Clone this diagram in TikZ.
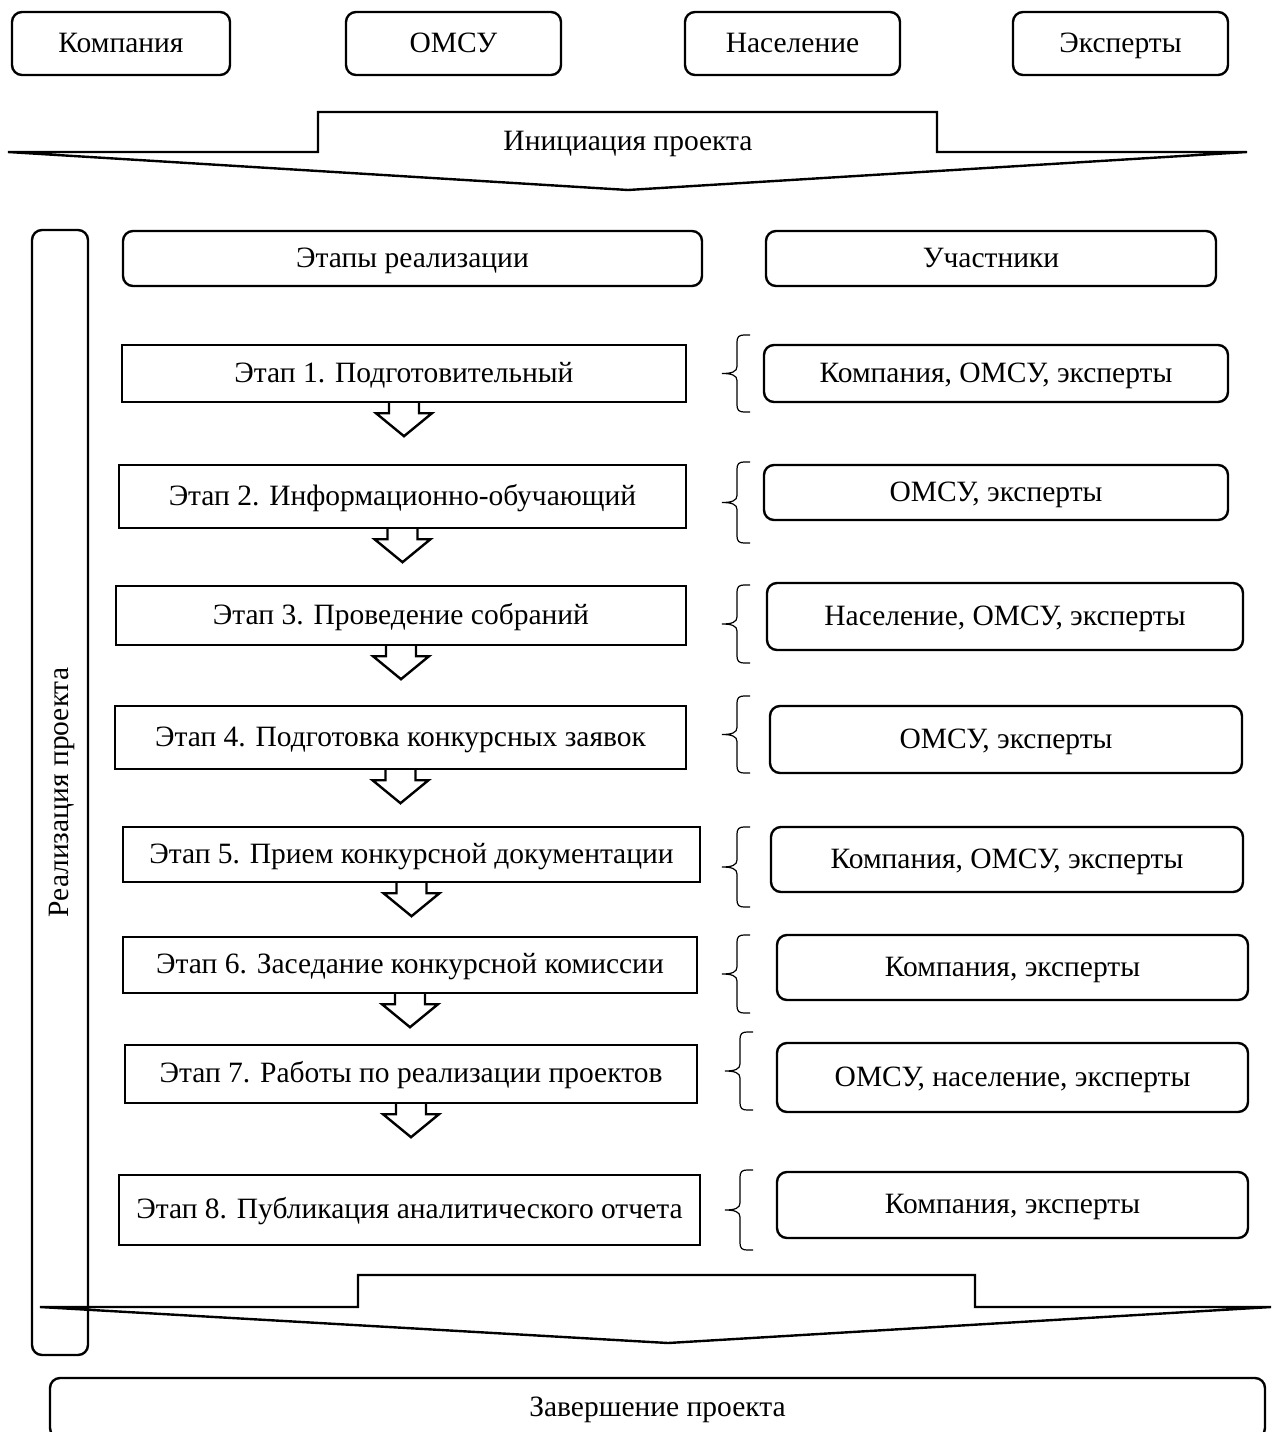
\documentclass[tikz,border=0pt]{standalone}
\usepackage{fontspec}
\setmainfont{Liberation Serif}
\usepackage{tikz}
\usetikzlibrary{calc}
\newcommand{\diagfont}{\fontsize{29.5}{34}\selectfont}
\tikzset{
  actorbox/.style={rectangle, draw=black, rounded corners=10pt,
    line width=2.4pt, inner sep=0pt, font=\diagfont,
    text height=23pt, text depth=6pt},
  headbox/.style={actorbox},
  stagebox/.style={rectangle, draw=black, line width=2.4pt,
    inner sep=0pt, font=\diagfont, text height=23pt, text depth=6pt},
  partbox/.style={actorbox},
  bigarrow/.style={draw=black, line width=2.4pt, line join=miter},
  stagearrow/.style={draw=black, line width=2.4pt, line join=miter},
  bracestroke/.style={draw=black, line width=1.2pt}
}

\begin{document}
\begin{tikzpicture}[x=1pt, y=-1pt]
  \useasboundingbox (0,0) rectangle (1273,1432);
  % ── Participants (top row) ────────────────────────────────────────────────
  \node[actorbox, minimum width=218, minimum height=63] (company) at (121,43.5) {Компания};
  \node[actorbox, minimum width=215, minimum height=63] (omsu) at (453.5,43.5) {ОМСУ};
  \node[actorbox, minimum width=215, minimum height=63] (people) at (792.5,43.5) {Население};
  \node[actorbox, minimum width=215, minimum height=63] (experts) at (1120.5,43.5) {Эксперты};

  % ── Initiation arrow ──────────────────────────────────────────────────────
  \draw[bigarrow] (8,152) -- (318,152) -- (318,112) -- (937,112) -- (937,152)
    -- (1247,152) -- (628,190) -- cycle;
  \node[font=\diagfont, text height=23pt, text depth=6pt, inner sep=0pt] (init) at (628,142) {Инициация проекта};

  % ── Realisation frame and headers ─────────────────────────────────────────
  \node[actorbox, rotate=90, minimum width=1125, minimum height=56] (realis) at (60,792.5) {Реализация проекта};
  \node[headbox, minimum width=579, minimum height=55] (stagehdr) at (412.5,258.5) {Этапы реализации};
  \node[headbox, minimum width=450, minimum height=55] (parthdr) at (991,258.5) {Участники};

  % ── Stages (left column) ──────────────────────────────────────────────────
  \node[stagebox, minimum width=564, minimum height=57] (s1) at (404,373.5) {Этап 1. Подготовительный};
  \node[stagebox, minimum width=567, minimum height=63] (s2) at (402.5,496.5) {Этап 2. Информационно-обучающий};
  \node[stagebox, minimum width=570, minimum height=59] (s3) at (401,615.5) {Этап 3. Проведение собраний};
  \node[stagebox, minimum width=571, minimum height=63] (s4) at (400.5,737.5) {Этап 4. Подготовка конкурсных заявок};
  \node[stagebox, minimum width=577, minimum height=55] (s5) at (411.5,854.5) {Этап 5. Прием конкурсной документации};
  \node[stagebox, minimum width=574, minimum height=56] (s6) at (410,965) {Этап 6. Заседание конкурсной комиссии};
  \node[stagebox, minimum width=572, minimum height=58] (s7) at (411,1074) {Этап 7. Работы по реализации проектов};
  \node[stagebox, minimum width=581, minimum height=70] (s8) at (409.5,1210) {Этап 8. Публикация аналитического отчета};

  % block arrows under stages 1-7
  \foreach \s in {s1,s2,s3,s4,s5,s6,s7}{
    \draw[stagearrow] ($(\s.south)+(-15,0)$) -- ++(0,10) -- ++(-13,0)
      -- ($(\s.south)+(0,33)$) -- ($(\s.south)+(28,10)$) -- ++(-13,0) -- ++(0,-10);
  }

  % ── Participants per stage (right column) ─────────────────────────────────
  \node[partbox, minimum width=464, minimum height=57] (p1) at (996,373.5) {Компания, ОМСУ, эксперты};
  \node[partbox, minimum width=464, minimum height=55] (p2) at (996,492.5) {ОМСУ, эксперты};
  \node[partbox, minimum width=476, minimum height=67] (p3) at (1005,616.5) {Население, ОМСУ, эксперты};
  \node[partbox, minimum width=472, minimum height=67] (p4) at (1006,739.5) {ОМСУ, эксперты};
  \node[partbox, minimum width=472, minimum height=65] (p5) at (1007,859.5) {Компания, ОМСУ, эксперты};
  \node[partbox, minimum width=471, minimum height=65] (p6) at (1012.5,967.5) {Компания, эксперты};
  \node[partbox, minimum width=471, minimum height=69] (p7) at (1012.5,1077.5) {ОМСУ, население, эксперты};
  \node[partbox, minimum width=471, minimum height=66] (p8) at (1012.5,1205) {Компания, эксперты};

  % braces between stage and participants
  \foreach \bx/\btop/\bbot [evaluate=\bbot as \bmid using (\btop+\bbot)/2] in
      {750/335/412, 750/462/543, 750/585/663, 750/696/773,
       750/827/907, 750/935/1013, 753/1032/1110, 753/1170/1250}{
    \draw[bracestroke] (\bx,\btop) -- (\bx-6,\btop)
      .. controls (\bx-11,\btop) and (\bx-13,\btop+2) .. (\bx-13,\btop+7)
      -- (\bx-13,\bmid-7)
      .. controls (\bx-13,\bmid-2) and (\bx-18,\bmid) .. (\bx-28,\bmid)
      .. controls (\bx-18,\bmid) and (\bx-13,\bmid+2) .. (\bx-13,\bmid+7)
      -- (\bx-13,\bbot-7)
      .. controls (\bx-13,\bbot-2) and (\bx-11,\bbot) .. (\bx-6,\bbot) -- (\bx,\bbot);
  }

  % ── Completion arrow and box ──────────────────────────────────────────────
  \draw[bigarrow] (40,1307) -- (358,1307) -- (358,1275) -- (975,1275) -- (975,1307)
    -- (1271,1307) -- (668,1343) -- cycle;
  \node[actorbox, minimum width=1215, minimum height=60] (finish) at (657.5,1408) {Завершение проекта};
\end{tikzpicture}
\end{document}
